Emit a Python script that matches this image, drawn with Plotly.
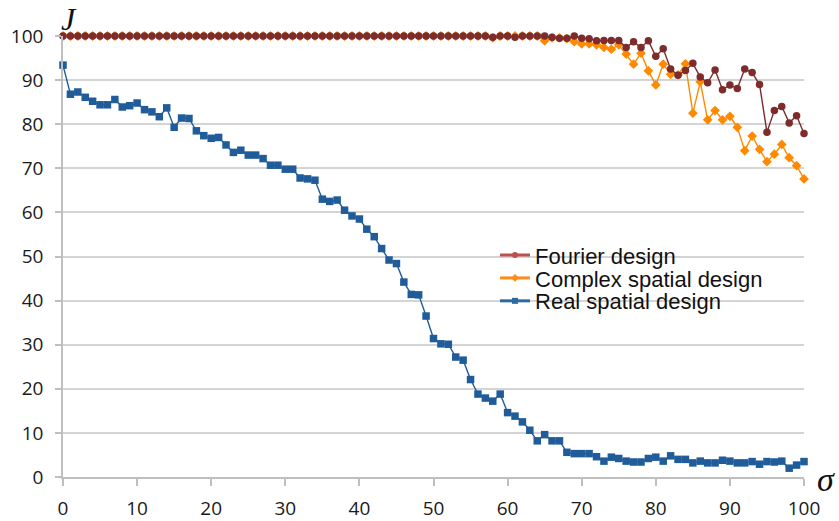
import plotly.graph_objects as go

# sigma values 0..100
sigma = list(range(101))

fourier = [
    100, 100, 100, 100, 100, 100, 100, 100, 100, 100,
    100, 100, 100, 100, 100, 100, 100, 100, 100, 100,
    100, 100, 100, 100, 100, 100, 100, 100, 100, 100,
    100, 100, 100, 100, 100, 100, 100, 100, 100, 100,
    100, 100, 100, 100, 100, 100, 100, 100, 100, 100,
    100, 100, 100, 100, 100, 100, 100, 100, 99.7, 100,
    100, 99.7, 100, 100, 100, 100, 99.7, 99.5, 99.5, 100,
    99.5, 99.4, 98.9, 99.0, 99.0, 99.0, 97.4, 98.7, 97.4, 98.9,
    95.4, 97.1, 92.5, 91.1, 92.2, 93.8, 90.7, 89.4, 92.3, 87.8,
    88.9, 88.1, 92.5, 91.7, 89.0, 78.2, 83.1, 84.0, 80.3, 81.9,
    77.9,
]

complex_spatial = [
    100, 100, 100, 100, 100, 100, 100, 100, 100, 100,
    100, 100, 100, 100, 100, 100, 100, 100, 100, 100,
    100, 100, 100, 100, 100, 100, 100, 100, 100, 100,
    100, 100, 100, 100, 100, 100, 100, 100, 100, 100,
    100, 100, 100, 100, 100, 100, 100, 100, 100, 100,
    100, 100, 100, 100, 100, 100, 100, 100, 99.6, 100,
    100, 100, 100, 100, 100, 98.9, 99.6, 99.6, 99.4, 98.7,
    98.2, 98.2, 98.0, 97.4, 97.0, 98.0, 95.9, 93.6, 96.1, 92.1,
    88.9, 93.6, 91.3, 91.2, 93.7, 82.5, 89.6, 81.0, 83.1, 81.0,
    81.8, 79.3, 74.0, 77.3, 74.3, 71.5, 73.2, 75.4, 72.4, 70.6,
    67.6,
]

real_spatial = [
    93.4, 86.8, 87.3, 86.1, 85.2, 84.4, 84.4, 85.6, 83.9, 84.2,
    84.8, 83.3, 82.8, 81.7, 83.7, 79.3, 81.4, 81.3, 78.5, 77.4,
    76.8, 77.0, 75.3, 73.6, 74.1, 73.0, 73.0, 72.2, 70.7, 70.7,
    69.8, 69.8, 67.8, 67.6, 67.3, 63.0, 62.5, 62.8, 60.5, 59.2,
    58.5, 56.2, 54.5, 51.8, 49.2, 48.4, 44.2, 41.4, 41.3, 36.5,
    31.4, 30.2, 30.1, 27.2, 26.5, 22.1, 18.8, 17.9, 17.2, 18.8,
    14.6, 13.8, 12.5, 10.6, 8.2, 9.6, 8.2, 8.2, 5.6, 5.3,
    5.3, 5.3, 4.6, 3.6, 4.5, 4.2, 3.6, 3.4, 3.4, 4.2,
    4.5, 3.6, 4.8, 4.0, 4.0, 3.2, 3.6, 3.2, 3.2, 3.8,
    3.6, 3.2, 3.2, 3.5, 2.9, 3.5, 3.4, 3.6, 2.0, 2.7,
    3.5,
]

series_names = ["Fourier design", "Complex spatial design", "Real spatial design"]
x_ticks = [0, 10, 20, 30, 40, 50, 60, 70, 80, 90, 100]
y_ticks = [0, 10, 20, 30, 40, 50, 60, 70, 80, 90, 100]

line_colors = ["#7d2b2b", "#ff8a00", "#1f5c99"]
legend_colors = ["#c0504d", "#ff8c1a", "#2c6aa0"]
symbols = ["circle", "diamond", "square"]
sizes = [7.5, 7.5, 7.5]

fig = go.Figure()

# Draw real spatial first so the other two sit on top
order = [2, 1, 0]
data = [fourier, complex_spatial, real_spatial]
for i in order:
    fig.add_trace(go.Scatter(
        x=sigma, y=data[i], mode="lines+markers",
        line=dict(color=line_colors[i], width=1.4),
        marker=dict(symbol=symbols[i], size=sizes[i], color=line_colors[i],
                    line=dict(width=0)),
        showlegend=False, cliponaxis=False, hoverinfo="skip",
    ))

# One legend box per series, stacked tightly
legend_ids = ["legend", "legend2", "legend3"]
legend_y = [0.503, 0.451, 0.399]
for i in range(3):
    fig.add_trace(go.Scatter(
        x=[None], y=[None], mode="lines+markers", name=series_names[i],
        legend=legend_ids[i],
        line=dict(color=legend_colors[i], width=3),
        marker=dict(symbol=symbols[i], size=6, color=legend_colors[i]),
    ))

legend_style = dict(
    x=0.583, xanchor="left", yanchor="middle",
    bgcolor="rgba(0,0,0,0)",
    font=dict(family="Liberation Sans", size=22, color="#111111"),
    itemwidth=30,
)

fig.update_layout(
    width=839, height=521,
    margin=dict(l=63, r=35, t=36, b=44, autoexpand=False),
    paper_bgcolor="white", plot_bgcolor="white",
    font=dict(family="Open Sans", size=19, color="#1a1a1a"),
    legend=dict(y=legend_y[0], **legend_style),
    legend2=dict(y=legend_y[1], **legend_style),
    legend3=dict(y=legend_y[2], **legend_style),
    xaxis=dict(
        range=[0, 100], tickvals=x_ticks, ticks="outside", ticklen=7,
        tickcolor="#bfbfbf", tickwidth=1.5, showgrid=False, zeroline=False,
        showline=True, linecolor="#bfbfbf", linewidth=1.5,
        ticklabelstandoff=6, automargin=False,
    ),
    yaxis=dict(
        range=[0, 100], tickvals=y_ticks, ticks="outside", ticklen=6,
        tickcolor="#bfbfbf", tickwidth=1.5, showgrid=True, gridcolor="#d4d4d4",
        gridwidth=1.5, zeroline=False, showline=True, linecolor="#bfbfbf",
        linewidth=1.5, ticklabelstandoff=8, automargin=False,
    ),
    annotations=[
        dict(text="<i>J</i>", xref="paper", yref="paper", x=0.0, y=1.0,
             xanchor="left", yanchor="bottom", xshift=-4, yshift=-3, showarrow=False,
             font=dict(family="Liberation Serif", size=32, color="#111111")),
        dict(text="<i>σ</i>", xref="paper", yref="paper", x=1.0, y=0.0,
             xanchor="left", yanchor="middle", xshift=11, yshift=-2, showarrow=False,
             font=dict(family="Liberation Serif", size=34, color="#111111")),
    ],
)

fig.write_html("out.html")
